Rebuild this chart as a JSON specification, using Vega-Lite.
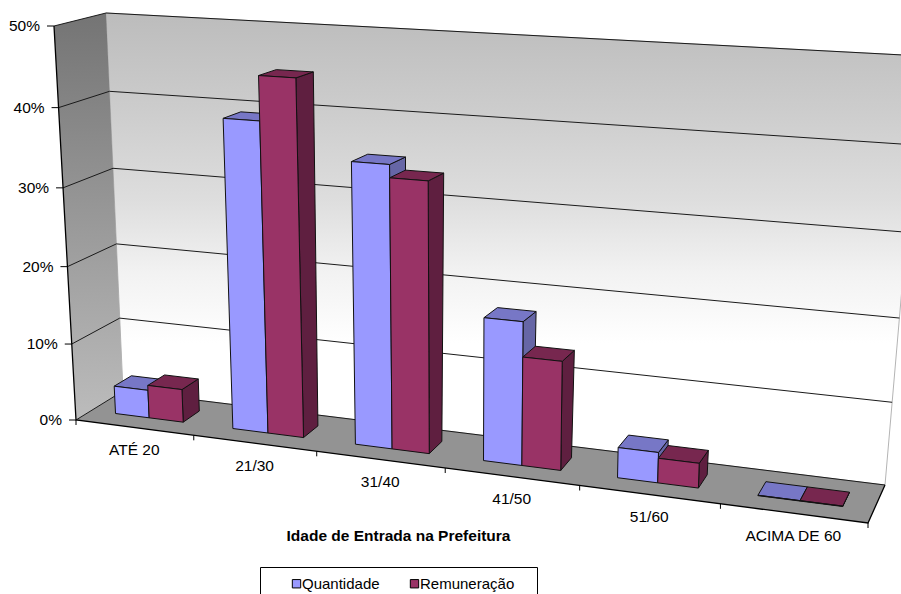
{"$schema":"https://vega.github.io/schema/vega-lite/v6.json","width":901,"height":594,"padding":0,"autosize":"none","background":"white","config":{"view":{"stroke":null},"text":{"font":"Liberation Sans"},"axisX":{"labels":false,"ticks":false,"domain":false,"grid":false}},"datasets":{"barras":[{"faixa":"ATÉ 20","serie":"Quantidade","valor":3.65},{"faixa":"ATÉ 20","serie":"Remuneração","valor":4.3},{"faixa":"21/30","serie":"Quantidade","valor":39.3},{"faixa":"21/30","serie":"Remuneração","valor":44.8},{"faixa":"31/40","serie":"Quantidade","valor":35.2},{"faixa":"31/40","serie":"Remuneração","valor":33.6},{"faixa":"41/50","serie":"Quantidade","valor":17.7},{"faixa":"41/50","serie":"Remuneração","valor":13.4},{"faixa":"51/60","serie":"Quantidade","valor":3.7},{"faixa":"51/60","serie":"Remuneração","valor":3},{"faixa":"ACIMA DE 60","serie":"Quantidade","valor":0.05},{"faixa":"ACIMA DE 60","serie":"Remuneração","valor":0.05}],"grade":[{"pct":0},{"pct":0.1},{"pct":0.2},{"pct":0.3},{"pct":0.4},{"pct":0.5}],"planos":[{"plano":"fundo"},{"plano":"lateral"},{"plano":"piso"}],"moldura":[{"p":0},{"p":1},{"p":2},{"p":3}],"faixas":[{"faixa":"ATÉ 20","i":0},{"faixa":"21/30","i":1},{"faixa":"31/40","i":2},{"faixa":"41/50","i":3},{"faixa":"51/60","i":4},{"faixa":"ACIMA DE 60","i":5}],"limites":[{"i":0},{"i":1},{"i":2},{"i":3},{"i":4},{"i":5},{"i":6}]},
"layer":[
{"data":{"name":"planos"},"transform":[{"calculate":"[0,1,2,3,4]","as":"vert"},{"flatten":["vert"]},{"calculate":"datum.vert%4","as":"c"},{"calculate":"datum.plano=='lateral'?0:(datum.c==0||datum.c==3?0:1)","as":"s"},{"calculate":"datum.plano=='fundo'?1:(datum.plano=='lateral'?(datum.c==0||datum.c==3?0:1):(datum.c<2?0:1))","as":"d"},{"calculate":"datum.plano=='piso'?0:(datum.c<2?0:1)","as":"h"},{"calculate":"(1-datum.d)*((1-datum.h)*(76+792*datum.s)+datum.h*(54+830*datum.s))+datum.d*((1-datum.h)*(123+762*datum.s)+datum.h*(106+816*datum.s))","as":"px"},{"calculate":"(1-datum.d)*((1-datum.h)*(420+103*datum.s)+datum.h*(26+48*datum.s))+datum.d*((1-datum.h)*(391+94*datum.s)+datum.h*(13+43*datum.s))","as":"py"}],
"layer":[
{"transform":[{"filter":"datum.plano=='fundo'"}],"mark":{"type":"line","clip":true,"strokeWidth":1,"stroke":"#b4b4b4","fill":{"gradient":"linear","x1":0,"y1":0,"x2":0,"y2":1,"stops":[{"offset":0,"color":"#bcbcbc"},{"offset":0.2,"color":"#cccccc"},{"offset":0.4,"color":"#dedede"},{"offset":0.55,"color":"#f2f2f2"},{"offset":0.7,"color":"#ffffff"},{"offset":1,"color":"#ffffff"}]}},"encoding":{"x":{"field":"px","type":"quantitative","scale":{"domain":[0,901],"nice":false,"zero":false},"axis":{"title":"Idade de Entrada na Prefeitura","titleFont":"Liberation Sans","titleFontSize":15.5,"titleFontWeight":"bold","titleColor":"#000000","titleX":398,"titleY":-66,"titleAnchor":"middle","titleAlign":"center","labels":false,"ticks":false,"domain":false,"grid":false}},"y":{"field":"py","type":"quantitative","scale":{"domain":[594,0],"nice":false,"zero":false},"axis":null},"order":{"field":"vert"}}},
{"transform":[{"filter":"datum.plano=='lateral'"}],"mark":{"type":"line","strokeWidth":0,"fill":{"gradient":"linear","x1":0,"y1":0,"x2":0,"y2":1,"stops":[{"offset":0,"color":"#747474"},{"offset":1,"color":"#bcbcbc"}]}},"encoding":{"x":{"field":"px","type":"quantitative","scale":{"domain":[0,901]}},"y":{"field":"py","type":"quantitative","scale":{"domain":[594,0]},"axis":null},"order":{"field":"vert"}}},
{"transform":[{"filter":"datum.plano=='piso'"}],"mark":{"type":"line","strokeWidth":0,"fill":"#939393"},"encoding":{"x":{"field":"px","type":"quantitative","scale":{"domain":[0,901]}},"y":{"field":"py","type":"quantitative","scale":{"domain":[594,0]},"axis":null},"order":{"field":"vert"}}}
]},
{"data":{"name":"grade"},"transform":[{"calculate":"[0,1,2]","as":"vert"},{"flatten":["vert"]},{"calculate":"datum.vert==2?1:0","as":"s"},{"calculate":"datum.vert==0?0:1","as":"d"},{"calculate":"(datum.pct/0.5)-0.045*(datum.pct/0.5)*(1-datum.pct/0.5)","as":"h"},{"calculate":"(1-datum.d)*((1-datum.h)*(76+792*datum.s)+datum.h*(54+830*datum.s))+datum.d*((1-datum.h)*(123+762*datum.s)+datum.h*(106+816*datum.s))","as":"px"},{"calculate":"(1-datum.d)*((1-datum.h)*(420+103*datum.s)+datum.h*(26+48*datum.s))+datum.d*((1-datum.h)*(391+94*datum.s)+datum.h*(13+43*datum.s))","as":"py"}],"mark":{"type":"line","clip":true,"stroke":"#1a1a1a","strokeWidth":1},"encoding":{"x":{"field":"px","type":"quantitative","scale":{"domain":[0,901]}},"y":{"field":"py","type":"quantitative","scale":{"domain":[594,0]},"axis":null},"detail":{"field":"pct"},"order":{"field":"vert"}}},
{"data":{"name":"moldura"},"transform":[{"calculate":"[1,1,0,0][datum.p]","as":"s"},{"calculate":"[1,0,0,0][datum.p]","as":"d"},{"calculate":"[0,0,0,1][datum.p]","as":"h"},{"calculate":"(1-datum.d)*((1-datum.h)*(76+792*datum.s)+datum.h*(54+830*datum.s))+datum.d*((1-datum.h)*(123+762*datum.s)+datum.h*(106+816*datum.s))","as":"px"},{"calculate":"(1-datum.d)*((1-datum.h)*(420+103*datum.s)+datum.h*(26+48*datum.s))+datum.d*((1-datum.h)*(391+94*datum.s)+datum.h*(13+43*datum.s))","as":"py"}],"mark":{"type":"line","stroke":"#000000","strokeWidth":1.3},"encoding":{"x":{"field":"px","type":"quantitative","scale":{"domain":[0,901]}},"y":{"field":"py","type":"quantitative","scale":{"domain":[594,0]},"axis":null},"order":{"field":"p"}}},
{"data":{"name":"limites"},"transform":[{"calculate":"(datum.i/6)/((datum.i/6)+1.145*(1-datum.i/6))","as":"s"},{"calculate":"76+792*datum.s","as":"px"},{"calculate":"420+103*datum.s","as":"py"},{"calculate":"datum.py+5","as":"py2"}],"mark":{"type":"rule","stroke":"#000000","strokeWidth":1},"encoding":{"x":{"field":"px","type":"quantitative","scale":{"domain":[0,901]}},"y":{"field":"py","type":"quantitative","scale":{"domain":[594,0]},"axis":null},"y2":{"field":"py2"}}},
{"data":{"name":"grade"},"transform":[{"calculate":"(datum.pct/0.5)-0.045*(datum.pct/0.5)*(1-datum.pct/0.5)","as":"h"},{"calculate":"(1-datum.h)*76+datum.h*54","as":"px"},{"calculate":"(1-datum.h)*420+datum.h*26","as":"py"},{"calculate":"datum.px-7","as":"px2"}],"layer":[{"mark":{"type":"rule","stroke":"#000000","strokeWidth":1},"encoding":{"x":{"field":"px","type":"quantitative","scale":{"domain":[0,901]}},"x2":{"field":"px2"},"y":{"field":"py","type":"quantitative","scale":{"domain":[594,0]},"axis":null}}},{"mark":{"type":"text","align":"right","baseline":"middle","dx":-14,"fontSize":15.5,"font":"Liberation Sans","color":"#000000"},"encoding":{"x":{"field":"px","type":"quantitative","scale":{"domain":[0,901]}},"y":{"field":"py","type":"quantitative","scale":{"domain":[594,0]},"axis":null},"text":{"field":"pct","format":".0%"}}}]},
{"data":{"name":"faixas"},"transform":[{"calculate":"((datum.i+0.5)/6)/(((datum.i+0.5)/6)+1.145*(1-(datum.i+0.5)/6))","as":"s"},{"calculate":"76+792*datum.s","as":"px"},{"calculate":"420+103*datum.s","as":"py"}],"mark":{"type":"text","align":"center","baseline":"middle","dy":22.5,"fontSize":15.5,"font":"Liberation Sans","color":"#000000"},"encoding":{"x":{"field":"px","type":"quantitative","scale":{"domain":[0,901]}},"y":{"field":"py","type":"quantitative","scale":{"domain":[594,0]},"axis":null},"text":{"field":"faixa"}}},
{"data":{"name":"barras"},"transform":[{"calculate":"indexof(['ATÉ 20','21/30','31/40','41/50','51/60','ACIMA DE 60'],datum.faixa)","as":"i"},{"calculate":"datum.serie=='Quantidade'?0:1","as":"k"},{"calculate":"datum.i/6+0.035+datum.k*0.0485","as":"uL"},{"calculate":"datum.uL+0.0485","as":"uR"},{"calculate":"['frente','lado','topo']","as":"face"},{"flatten":["face"]},{"calculate":"[0,1,2,3,4]","as":"vert"},{"flatten":["vert"]},{"calculate":"datum.vert%4","as":"c"},{"calculate":"datum.face=='lado'?datum.uR:(datum.c==0||datum.c==3?datum.uL:datum.uR)","as":"u"},{"calculate":"datum.face=='frente'?0.33:(datum.face=='topo'?(datum.c<2?0.33:0.7):(datum.c==0||datum.c==3?0.33:0.7))","as":"d"},{"calculate":"(datum.valor/50)-0.045*(datum.valor/50)*(1-datum.valor/50)","as":"topoH"},{"calculate":"datum.face=='topo'?datum.topoH:(datum.c<2?0:datum.topoH)","as":"h"},{"calculate":"datum.u/(datum.u+1.145*(1-datum.u))","as":"s"},{"calculate":"(1-datum.d)*((1-datum.h)*(76+792*datum.s)+datum.h*(54+830*datum.s))+datum.d*((1-datum.h)*(123+762*datum.s)+datum.h*(106+816*datum.s))","as":"px"},{"calculate":"(1-datum.d)*((1-datum.h)*(420+103*datum.s)+datum.h*(26+48*datum.s))+datum.d*((1-datum.h)*(391+94*datum.s)+datum.h*(13+43*datum.s))","as":"py"}],
"layer":[
{"transform":[{"filter":"datum.k==0&&datum.face=='lado'"}],"mark":{"type":"line","stroke":"#111111","strokeWidth":1,"fill":"#6666a6"},"encoding":{"x":{"field":"px","type":"quantitative","scale":{"domain":[0,901]}},"y":{"field":"py","type":"quantitative","scale":{"domain":[594,0]},"axis":null},"detail":{"field":"faixa"},"order":{"field":"vert"}}},
{"transform":[{"filter":"datum.k==0&&datum.face=='topo'"}],"mark":{"type":"line","stroke":"#111111","strokeWidth":1,"fill":"#7777c6"},"encoding":{"x":{"field":"px","type":"quantitative","scale":{"domain":[0,901]}},"y":{"field":"py","type":"quantitative","scale":{"domain":[594,0]},"axis":null},"detail":{"field":"faixa"},"order":{"field":"vert"}}},
{"transform":[{"filter":"datum.k==1&&datum.face=='lado'"}],"mark":{"type":"line","stroke":"#111111","strokeWidth":1,"fill":"#5f1f40"},"encoding":{"x":{"field":"px","type":"quantitative","scale":{"domain":[0,901]}},"y":{"field":"py","type":"quantitative","scale":{"domain":[594,0]},"axis":null},"detail":{"field":"faixa"},"order":{"field":"vert"}}},
{"transform":[{"filter":"datum.k==1&&datum.face=='topo'"}],"mark":{"type":"line","stroke":"#111111","strokeWidth":1,"fill":"#77274f"},"encoding":{"x":{"field":"px","type":"quantitative","scale":{"domain":[0,901]}},"y":{"field":"py","type":"quantitative","scale":{"domain":[594,0]},"axis":null},"detail":{"field":"faixa"},"order":{"field":"vert"}}},
{"transform":[{"filter":"datum.face=='frente'"}],"mark":{"type":"line","stroke":"#111111","strokeWidth":1},"encoding":{"x":{"field":"px","type":"quantitative","scale":{"domain":[0,901]}},"y":{"field":"py","type":"quantitative","scale":{"domain":[594,0]},"axis":null},"detail":{"field":"faixa"},"order":{"field":"vert"},"fill":{"field":"serie","type":"nominal","scale":{"domain":["Quantidade","Remuneração"],"range":["#9999ff","#993366"]},"legend":{"title":" ","orient":"none","legendX":260,"legendY":567,"direction":"horizontal","columns":2,"symbolType":"square","symbolSize":70,"symbolStrokeColor":"#000000","symbolStrokeWidth":1,"labelFont":"Liberation Sans","labelFontSize":15,"labelColor":"#000000","labelOffset":-2,"columnPadding":7,"padding":9,"strokeColor":"#000000","fillColor":"#ffffff","symbolOffset":20,"titleOrient":"right","titlePadding":14}}}}
]}
]}
